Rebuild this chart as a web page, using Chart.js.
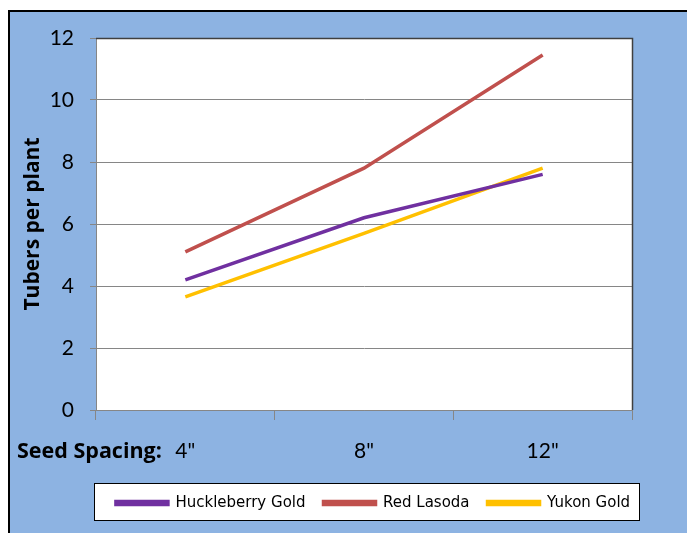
<!DOCTYPE html>
<html>
<head>
<meta charset="utf-8">
<style>
  html, body { margin: 0; padding: 0; background: #ffffff; }
  #wrap { width: 687px; height: 533px; }
</style>
<script src="https://cdn.jsdelivr.net/npm/chart.js@4/dist/chart.umd.min.js"></script>
</head>
<body>
<div id="wrap"><canvas id="myChart" width="687" height="533"></canvas></div>
<script>
const spacings = ['4"', '8"', '12"'];
const huckleberryGold = [4.2, 6.2, 7.6];
const redLasoda = [5.1, 7.8, 11.45];
const yukonGold = [3.65, 5.7, 7.8];

const legendFont = 15;
const legendPad = 18;

const bgBox = {
  id: 'bgBox',
  afterLayout(chart) {
    // centre the legend on its framed box (wide limits so nothing wraps)
    const lg = chart.legend;
    const mid = 373;
    lg.left = mid - 320;
    lg.right = mid + 320;
    lg.width = 640;
    lg.top = 503 - legendPad - legendFont / 2;
  },
  beforeDraw(chart) {
    const c = chart.ctx;
    c.save();
    c.fillStyle = '#8db3e2';
    c.fillRect(8, 10, chart.width - 8, chart.height - 10);
    c.strokeStyle = '#000000';
    c.lineWidth = 2;
    c.beginPath();
    c.moveTo(9, chart.height);
    c.lineTo(9, 11);
    c.lineTo(chart.width, 11);
    c.stroke();
    const a = chart.chartArea;
    c.fillStyle = '#ffffff';
    c.fillRect(a.left, a.top, a.right - a.left, a.bottom - a.top);
    c.fillStyle = '#ffffff';
    c.fillRect(94, 483, 545, 37);
    c.strokeStyle = '#000000';
    c.lineWidth = 1;
    c.strokeRect(94.5, 483.5, 545, 37);
    c.restore();
  },
  afterDraw(chart) {
    const c = chart.ctx;
    const a = chart.chartArea;
    c.save();
    c.strokeStyle = '#404040';
    c.lineWidth = 1.5;
    c.beginPath();
    c.moveTo(a.left, a.top + 0.5);
    c.lineTo(a.right + 0.5, a.top + 0.5);
    c.lineTo(a.right + 0.5, a.bottom);
    c.stroke();
    c.fillStyle = '#000000';
    c.font = 'bold 21.5px "Open Sans"';
    c.textBaseline = 'middle';
    c.textAlign = 'left';
    c.fillText('Seed Spacing:', 17, 452);
    c.restore();
  }
};

const ctx = document.getElementById('myChart').getContext('2d');
const myChart = new Chart(ctx, {
  type: 'line',
  data: {
    labels: spacings,
    datasets: [
      { label: 'Huckleberry Gold', data: huckleberryGold, borderColor: '#7030a0', backgroundColor: '#7030a0' },
      { label: 'Red Lasoda', data: redLasoda, borderColor: '#c0504d', backgroundColor: '#c0504d' },
      { label: 'Yukon Gold', data: yukonGold, borderColor: '#ffc000', backgroundColor: '#ffc000' }
    ]
  },
  options: {
    responsive: false,
    animation: false,
    elements: {
      line: { borderWidth: 3.5, tension: 0 },
      point: { radius: 0 }
    },
    layout: { padding: { left: 8, top: 38, right: 55, bottom: 12 } },
    scales: {
      x: {
        offset: true,
        grid: { offset: true, drawOnChartArea: false, color: '#868686', tickLength: 10, tickColor: '#868686' },
        border: { color: '#868686' },
        ticks: { color: '#000000', font: { family: 'Lato', size: 21 }, padding: 19 },
        afterFit(scale) { scale.height = 68; }
      },
      y: {
        min: 0,
        max: 12,
        ticks: { stepSize: 2, color: '#000000', font: { family: 'Lato', size: 21 }, padding: 16 },
        grid: { color: '#868686', tickLength: 6 },
        border: { color: '#868686' },
        title: { display: true, text: 'Tubers per plant', color: '#000000', font: { family: 'Open Sans', size: 21, weight: 'bold' }, padding: { top: 12, bottom: 0 } },
        afterFit(scale) { scale.width = 88; }
      }
    },
    plugins: {
      legend: {
        position: 'bottom',
        labels: {
          color: '#000000',
          font: { family: 'DejaVu Sans', size: legendFont },
          boxWidth: 52,
          boxHeight: 3,
          padding: legendPad
        }
      },
      title: { display: false },
      tooltip: { enabled: false }
    }
  },
  plugins: [bgBox]
});
</script>
</body>
</html>
